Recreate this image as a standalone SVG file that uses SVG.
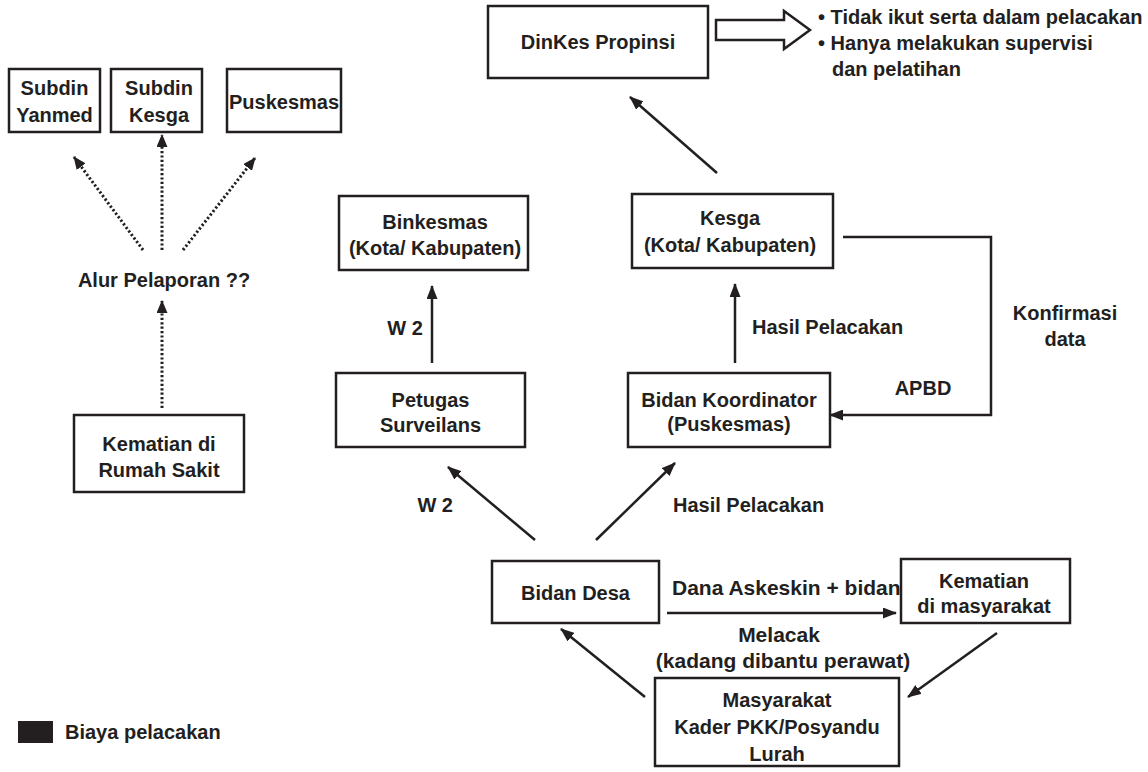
<svg xmlns="http://www.w3.org/2000/svg" width="1148" height="772" viewBox="0 0 1148 772">
<style>
.box{fill:#fff;stroke:#231f20;stroke-width:2.5}
text{font-family:"Liberation Sans",Arial,sans-serif;font-weight:bold;font-size:20px;fill:#231f20}
.c{text-anchor:middle}
.e{text-anchor:end}
.big{font-size:21px}
.ln{stroke:#231f20;stroke-width:2.5;fill:none}
.dot{stroke:#231f20;stroke-width:3;fill:none;stroke-dasharray:2.2 2.2}
</style>
<defs>
<marker id="ah" viewBox="0 0 13 11" refX="12" refY="5.5" markerWidth="13" markerHeight="11" markerUnits="userSpaceOnUse" orient="auto">
<path d="M0,0 L13,5.5 L0,11 z" fill="#231f20"/>
</marker>
<marker id="ahb" viewBox="0 0 14 11" refX="13" refY="5.5" markerWidth="14" markerHeight="11" orient="auto" markerUnits="userSpaceOnUse">
<path d="M0,0 L14,5.5 L0,11 z" fill="#231f20"/>
</marker>
</defs>
<rect width="1148" height="772" fill="#fff"/>

<g id="connectors">
<g id="dotted">
<line class="dot" x1="143" y1="250" x2="74" y2="157" marker-end="url(#ah)"/>
<line class="dot" x1="162" y1="250" x2="162" y2="135" marker-end="url(#ah)"/>
<line class="dot" x1="183" y1="250" x2="255" y2="158" marker-end="url(#ah)"/>
<line class="dot" x1="162" y1="408" x2="162" y2="301" marker-end="url(#ah)"/>
</g>
<path class="ln" d="M432,363 L432,286" marker-end="url(#ahb)"/>
<path class="ln" d="M735,363 L735,284" marker-end="url(#ahb)"/>
<path class="ln" d="M717,173 L630,97" marker-end="url(#ahb)"/>
<path class="ln" d="M843,237 L991,237 L991,415 L830,415" marker-end="url(#ahb)"/>
<path class="ln" d="M535,540 L448,467" marker-end="url(#ahb)"/>
<path class="ln" d="M596,540 L675,463" marker-end="url(#ahb)"/>
<path class="ln" d="M667,613 L896,613" marker-end="url(#ahb)"/>
<path class="ln" d="M997,633 L908,697" marker-end="url(#ahb)"/>
<path class="ln" d="M645,697 L561,629" marker-end="url(#ahb)"/>
<polygon class="ln" points="716,20 784,20 784,11 810,30 784,49 784,40 716,40"/>
</g>

<g id="dinkes"><rect class="box" x="488" y="6" width="220" height="72"/><text class="c" x="598" y="49">DinKes Propinsi</text></g>
<g id="note">
<text x="818" y="24">• Tidak ikut serta dalam pelacakan</text>
<text x="818" y="50">• Hanya melakukan supervisi</text>
<text x="832" y="76">dan pelatihan</text>
</g>
<g id="subdin-yanmed"><rect class="box" x="9" y="69" width="91" height="63"/><text class="c" x="54.5" y="95">Subdin</text><text class="c" x="54.5" y="122">Yanmed</text></g>
<g id="subdin-kesga"><rect class="box" x="111" y="69" width="91" height="63"/><text class="c" x="159" y="95">Subdin</text><text class="c" x="159" y="122">Kesga</text></g>
<g id="puskesmas"><rect class="box" x="227" y="69" width="114" height="63"/><text class="c" x="284" y="109">Puskesmas</text></g>
<g id="alur"><text class="c" x="164" y="287">Alur Pelaporan ??</text></g>
<g id="kematian-rs"><rect class="box" x="74" y="415" width="170" height="77"/><text class="c" x="159" y="451">Kematian di</text><text class="c" x="159" y="477">Rumah Sakit</text></g>
<g id="binkesmas"><rect class="box" x="339" y="196" width="189" height="74"/><text class="c" x="435" y="229">Binkesmas</text><text class="c" x="435" y="255">(Kota/ Kabupaten)</text></g>
<g id="kesga"><rect class="box" x="632" y="194" width="201" height="74"/><text class="c" x="730" y="225">Kesga</text><text class="c" x="730" y="252">(Kota/ Kabupaten)</text></g>
<g id="petugas"><rect class="box" x="336" y="373" width="189" height="74"/><text class="c" x="430.5" y="407">Petugas</text><text class="c" x="430.5" y="432">Surveilans</text></g>
<g id="bidan-koord"><rect class="box" x="628" y="373" width="202" height="74"/><text class="c" x="729" y="407">Bidan Koordinator</text><text class="c" x="729" y="431">(Puskesmas)</text></g>
<g id="bidan-desa"><rect class="box" x="492" y="561" width="167" height="62"/><text class="c" x="575.5" y="600">Bidan Desa</text></g>
<g id="kematian-m"><rect class="box" x="901" y="559" width="169" height="64"/><text class="c" x="984" y="588">Kematian</text><text class="c" x="984" y="613">di masyarakat</text></g>
<g id="masyarakat"><rect class="box" x="655" y="678" width="244" height="88"/><text class="c" x="777" y="707">Masyarakat</text><text class="c" x="777" y="734">Kader PKK/Posyandu</text><text class="c" x="777" y="761">Lurah</text></g>

<g id="labels">
<text class="c" x="405" y="335">W 2</text>
<text x="752" y="334">Hasil Pelacakan</text>
<text class="c" x="1065" y="320">Konfirmasi</text>
<text class="c" x="1065" y="346">data</text>
<text class="c" x="923" y="395">APBD</text>
<text class="e" x="453" y="512">W 2</text>
<text x="673" y="512">Hasil Pelacakan</text>
<text class="big" x="672" y="595">Dana Askeskin + bidan</text>
<text class="c big" x="779" y="642">Melacak</text>
<text class="c big" x="783" y="668">(kadang dibantu perawat)</text>
</g>
<g id="legend"><rect x="18" y="721" width="35" height="22" fill="#231f20"/><text x="65" y="739">Biaya pelacakan</text></g>
</svg>
